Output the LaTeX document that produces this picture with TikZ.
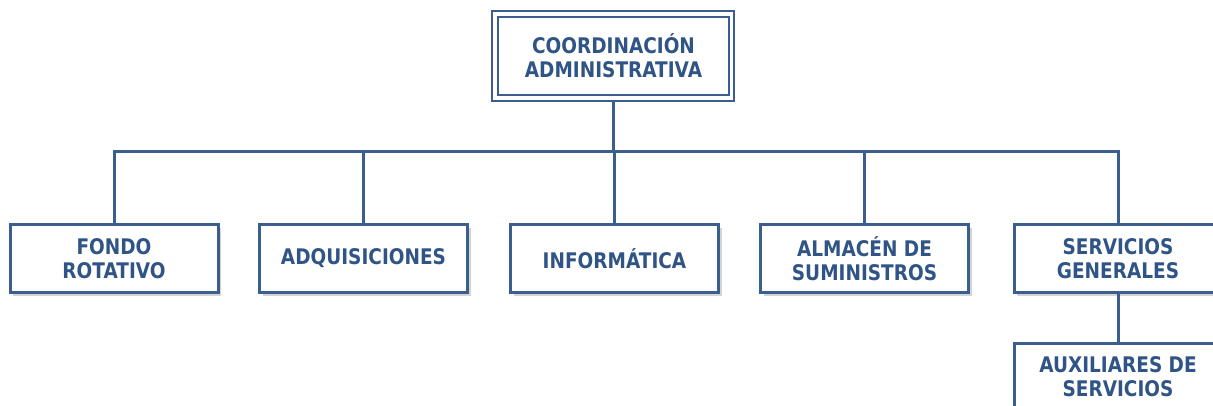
\documentclass[tikz,border=0pt]{standalone}
\usepackage{fontspec}
\setmainfont{DejaVu Sans}[FakeStretch=0.86]
\usetikzlibrary{shadows}
\definecolor{txtblue}{RGB}{47,84,133}
\definecolor{lineblue}{RGB}{58,95,143}
\definecolor{shadowgray}{RGB}{212,212,212}
\begin{document}
\begin{tikzpicture}[x=1pt,y=-1pt,
  boxfont/.style={font=\bfseries\fontsize{21.5}{24}\selectfont},
  unitbox/.style={draw=lineblue, line width=3pt, fill=white,
    minimum width=208pt, minimum height=67pt, inner sep=0pt,
    align=center, text=txtblue, boxfont,
    drop shadow={shadow xshift=3pt, shadow yshift=-3.5pt, fill=shadowgray, opacity=1}},
  conn/.style={draw=lineblue, line width=3pt}]
\useasboundingbox (0,0) rectangle (1213,406);
\clip (0,0) rectangle (1213,406);
% top box (double border)
\node[draw=lineblue, line width=2.6pt, minimum width=242pt, minimum height=90pt, inner sep=0pt] (top) at (613,56) {};
\node[draw=lineblue, line width=2.6pt, minimum width=231pt, minimum height=78pt, inner sep=0pt,
  align=center, text=txtblue, boxfont] (topin) at (613.5,56) {\fontsize{21.5}{26}\selectfont COORDINACIÓN\\ADMINISTRATIVA};
% bus
\coordinate (bus) at (613,152);
% unit boxes
\node[unitbox] (b1) at (114,258.5) {FONDO\\ROTATIVO};
\node[unitbox] (b2) at (363.5,258.5) {ADQUISICIONES};
\node[unitbox] (b3) at (614.5,258.5) {INFORMÁTICA};
\node[unitbox] (b4) at (864.5,258.5) {ALMACÉN DE\\SUMINISTROS};
\node[unitbox] (b5) at (1118,258.5) {SERVICIOS\\GENERALES};
\node[unitbox] (b6) at (1118,376.5) {AUXILIARES DE\\SERVICIOS};
% connectors
\draw[conn] (top.south) -- (bus);
\draw[conn] (b1.north) -- (b1.north |- bus) -- (b5.north |- bus) -- (b5.north);
\draw[conn] (b2.north) -- (b2.north |- bus);
\draw[conn] (b3.north) -- (b3.north |- bus);
\draw[conn] (b4.north) -- (b4.north |- bus);
\draw[conn] (b5.south) -- (b6.north);
\end{tikzpicture}
\end{document}
